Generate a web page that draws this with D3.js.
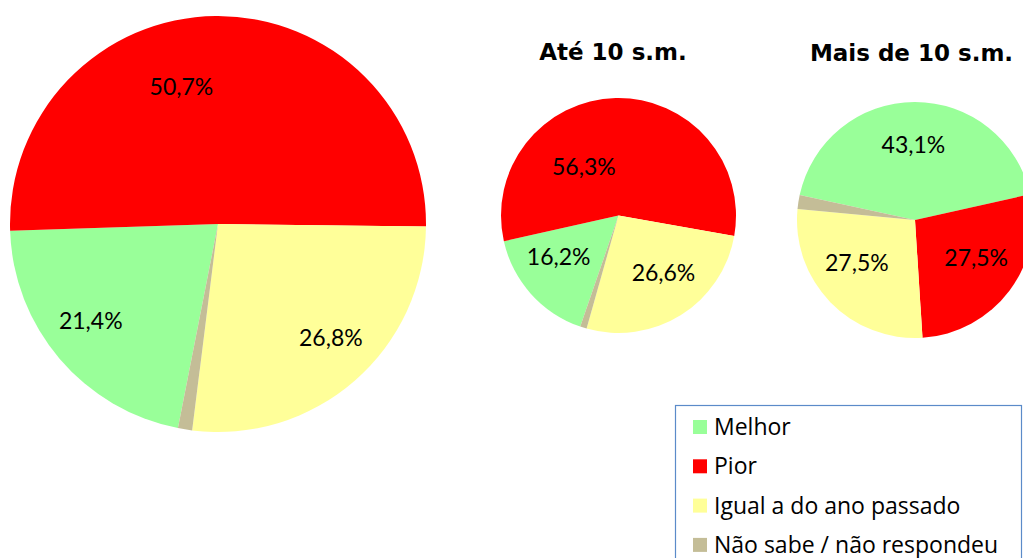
<!DOCTYPE html>
<html lang="pt">
<head>
<meta charset="UTF-8">
<script src="https://cdn.jsdelivr.net/npm/d3@7"></script>
<title>Pizzas</title>
<style>
    body { margin: 0; background: #fff; }
    svg { display: block; font-family: Lato, "Open Sans", sans-serif; }
    .title { font-family: "DejaVu Sans", sans-serif; font-weight: bold; font-size: 23px; }
    .legend-text { font-family: "Open Sans", sans-serif; font-size: 23px; }
</style>
</head>
<body>
<div id="container"></div>
<script>
    // categories and values (percent)
    const categories = ["Melhor", "Pior", "Igual a do ano passado", "Não sabe / não respondeu"];
    const colors = ["#99FF99", "#FF0000", "#FFFF99", "#C4BD97"];

    const pieTitles = ["", "Até 10 s.m.", "Mais de 10 s.m."];
    const totalValues = [21.4, 50.7, 26.8, 1.1];
    const ate10Values = [16.2, 56.3, 26.6, 0.9];
    const mais10Values = [43.1, 27.5, 27.5, 1.9];
    const showLabel = [true, true, true, false];

    /*----------------- layout -----------------*/
    const W = 1023, H = 558;
    // center, radius, first slice angle (deg), title position
    const pieLayout = [
        { cx: 218, cy: 224, r: 208, start: 191.1, titleX: 0, titleY: 0 },
        { cx: 618.5, cy: 215.5, r: 117.5, start: 199.0, titleX: 613, titleY: 59.5 },
        { cx: 915, cy: 220, r: 118, start: 282.2, titleX: 911.5, titleY: 61 }
    ];
    // label nudges: [angle offset deg, radius fraction] per slice
    const labelNudge = [
        [[3, 0.77], [-14.4, 0.68], [-3.7, 0.77], [0, 0.7]],
        [[7, 0.62], [-34, 0.51], [-6, 0.62], [0, 0.6]],
        [[-1, 0.64], [-5, 0.61], [8, 0.61], [0, 0.6]]
    ];

    const svg = d3.select("#container").append("svg")
        .attr("width", W)
        .attr("height", H);

    const allValues = [totalValues, ate10Values, mais10Values];
    const fmt = v => d3.format(".1f")(v).replace(".", ",") + "%";
    const rad = Math.PI / 180;

    allValues.forEach((vals, i) => {
        const L = pieLayout[i];
        const pie = d3.pie().sort(null)
            .startAngle(L.start * rad)
            .endAngle(L.start * rad + 2 * Math.PI);
        const arc = d3.arc().innerRadius(0).outerRadius(L.r);
        const arcs = pie(vals);

        const g = svg.append("g").attr("transform", `translate(${L.cx},${L.cy})`);
        g.selectAll("path")
            .data(arcs)
            .enter()
            .append("path")
            .attr("d", arc)
            .attr("fill", (d, j) => colors[j]);

        g.selectAll("text")
            .data(arcs.filter((d, j) => showLabel[j]))
            .enter()
            .append("text")
            .attr("transform", d => {
                const n = labelNudge[i][d.index];
                const a = (d.startAngle + d.endAngle) / 2 + n[0] * rad;
                const rr = L.r * n[1];
                return `translate(${rr * Math.sin(a)},${-rr * Math.cos(a)})`;
            })
            .attr("text-anchor", "middle")
            .attr("dy", "0.35em")
            .style("font-size", "23px")
            .attr("fill", "#000")
            .text(d => fmt(d.data));

        if (pieTitles[i]) {
            svg.append("text")
                .attr("class", "title")
                .attr("x", L.titleX)
                .attr("y", L.titleY)
                .attr("text-anchor", "middle")
                .text(pieTitles[i]);
        }
    });

    /*----------------- legend -----------------*/
    const legend = svg.append("g").attr("transform", "translate(675,405)");
    legend.append("rect")
        .attr("x", 0.5).attr("y", 0.5)
        .attr("width", 346).attr("height", 170)
        .attr("fill", "#fff")
        .attr("stroke", "#5B8BC9")
        .attr("stroke-width", 1.2);

    const item = legend.selectAll("g.item")
        .data(categories)
        .enter()
        .append("g")
        .attr("class", "item")
        .attr("transform", (d, j) => `translate(18,${22 + j * 39.3})`);
    item.append("rect")
        .attr("x", 0).attr("y", -7)
        .attr("width", 14).attr("height", 14)
        .attr("fill", (d, j) => colors[j]);
    item.append("text")
        .attr("class", "legend-text")
        .attr("x", 21)
        .attr("dy", "0.35em")
        .text(d => d);
</script>
</body>
</html>
